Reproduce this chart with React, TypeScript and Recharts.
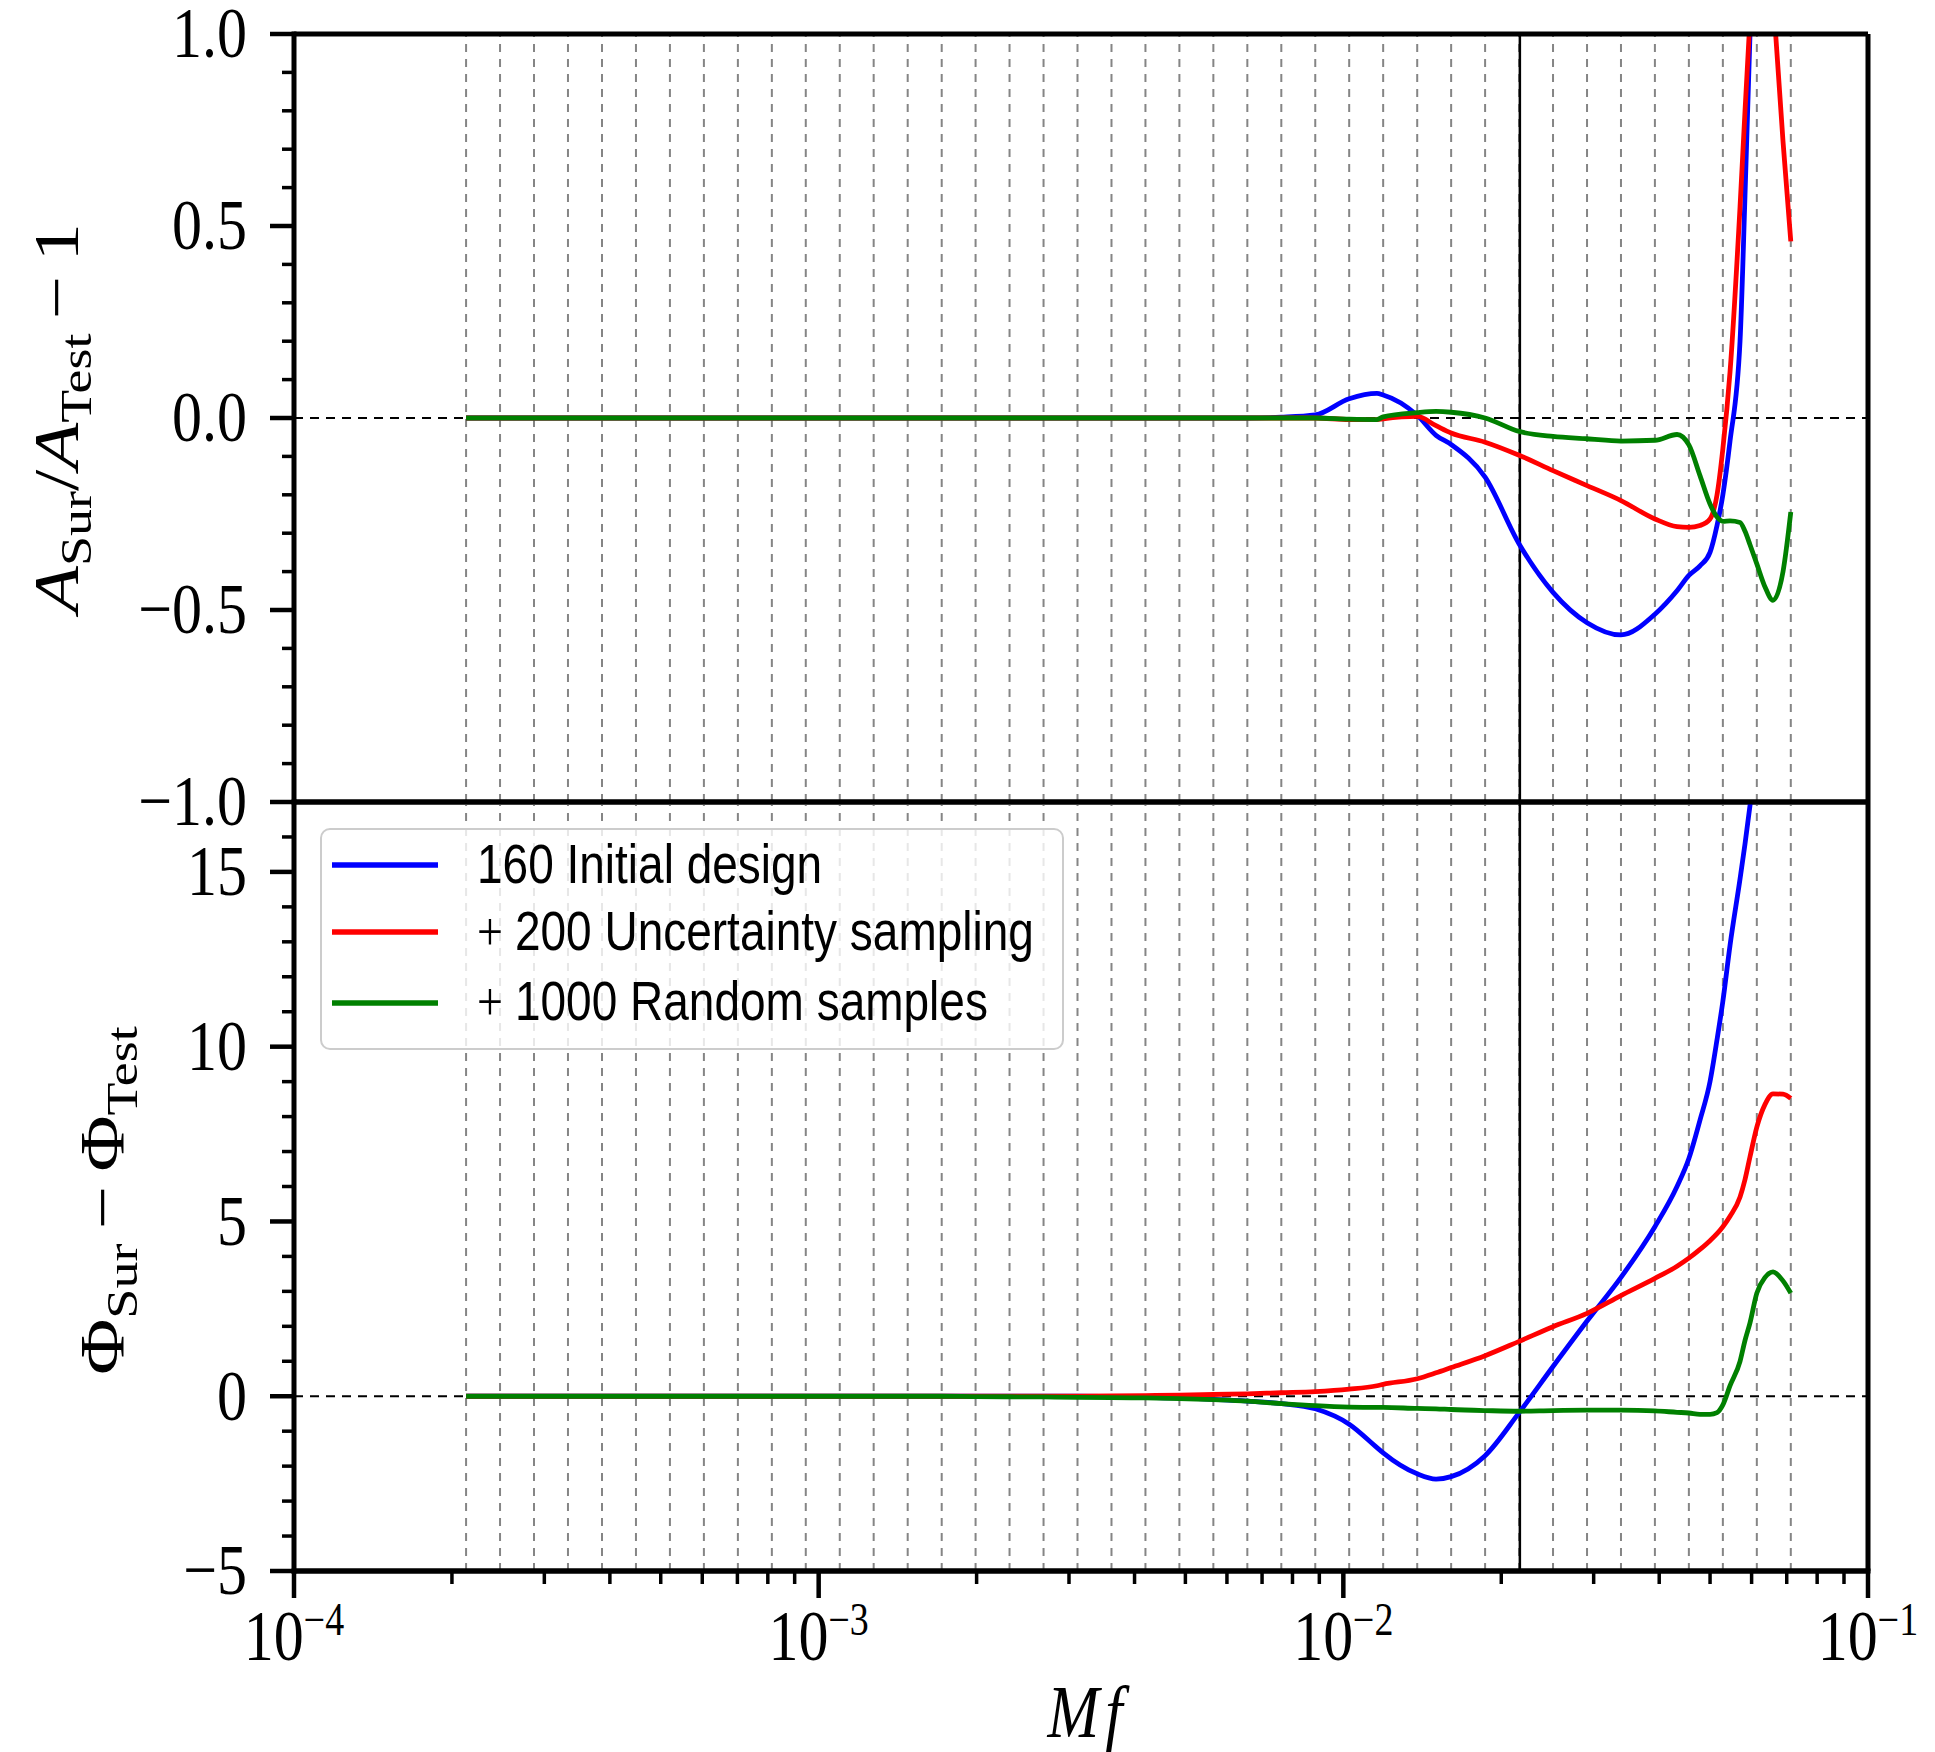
import React from 'react';
import { LineChart, Line, XAxis, YAxis, ReferenceLine, Legend } from 'recharts';

// ---------------- data ----------------
// Mf sample positions (log-spaced nodes + a few extra points in steep regions)
const MF = [
  2.128e-4, 2.470e-4, 2.867e-4, 3.328e-4, 3.864e-4, 4.485e-4, 5.206e-4, 6.043e-4, 7.015e-4, 8.143e-4,
  9.450e-4, 1.097e-3, 1.273e-3, 1.478e-3, 1.716e-3, 1.991e-3, 2.311e-3, 2.683e-3, 3.114e-3, 3.615e-3,
  4.196e-3, 4.870e-3, 5.653e-3, 6.562e-3, 7.617e-3, 8.841e-3, 1.026e-2, 1.159e-2, 1.191e-2, 1.383e-2,
  1.502e-2, 1.605e-2, 1.863e-2, 2.163e-2, 2.510e-2, 2.914e-2, 3.382e-2, 3.925e-2, 4.325e-2, 4.556e-2,
  4.784e-2, 4.999e-2, 5.155e-2, 5.289e-2, 5.458e-2, 5.703e-2, 5.829e-2, 5.958e-2, 6.139e-2, 6.364e-2,
  6.591e-2, 6.887e-2, 7.126e-2,
];

// amplitude residual A_Sur/A_Test - 1
const TOP_BLUE = [
  0, 0, 0, 0, 0, 0, 0, 0, 0, 0, 0, 0, 0, 0, 0, 0, 0, 0, 0, 0, 0, 0, 0,
  0, 0.002, 0.008, 0.05, 0.064, 0.06, 0.007, -0.045, -0.069, -0.154,
  -0.328, -0.454, -0.533, -0.565, -0.511, -0.45, -0.41, -0.385, -0.35, -0.28,
  -0.2, -0.06, 0.2, 0.58, 1.0, 1.6, 2.3, 3.0, 3.8, 4.5,
];
const TOP_RED = [
  0, 0, 0, 0, 0, 0, 0, 0, 0, 0, 0, 0, 0, 0, 0, 0, 0, 0, 0, 0, 0, 0, 0, 0, 0, 0,
  -0.004, -0.004, -0.002, 0.004, -0.02, -0.039, -0.063, -0.097, -0.137, -0.176,
  -0.215, -0.263, -0.283, -0.285, -0.28, -0.263, -0.2, -0.08, 0.12, 0.55,
  0.8, 1.04, 1.4, 1.45, 1.1, 0.72, 0.46,
];
const TOP_GREEN = [
  0, 0, 0, 0, 0, 0, 0, 0, 0, 0, 0, 0, 0, 0, 0, 0, 0, 0, 0, 0, 0, 0, 0, 0, 0, 0,
  -0.003, -0.004, 0.003, 0.014, 0.017, 0.015, 0, -0.035, -0.048, -0.054,
  -0.06, -0.058, -0.043, -0.07, -0.15, -0.224, -0.258, -0.269, -0.268, -0.272,
  -0.295, -0.33, -0.38, -0.44, -0.475, -0.4, -0.245,
];

// phase residual Phi_Sur - Phi_Test
const BOT_BLUE = [
  0, 0, 0, 0, 0, 0, 0, 0, 0, 0, 0, 0, 0, 0, 0, 0, 0, 0, 0,
  -0.01, -0.03, -0.05, -0.09, -0.14, -0.21, -0.36, -0.8, -1.47, -1.62,
  -2.22, -2.37, -2.3, -1.7, -0.47, 0.85, 2.15, 3.4, 4.85, 6.0,
  6.8, 7.9, 9.0, 10.2, 11.3, 12.9, 14.8, 15.8, 16.9, 18.5,
  20.5, 22.5, 25, 27,
];
const BOT_RED = [
  0, 0, 0, 0, 0, 0, 0, 0, 0, 0, 0, 0, 0, 0, 0, 0, 0, 0,
  0.005, 0.01, 0.02, 0.03, 0.05, 0.07, 0.1, 0.13, 0.2, 0.3,
  0.34, 0.5, 0.67, 0.82, 1.16, 1.57, 1.99, 2.37, 2.88, 3.37,
  3.72, 3.95, 4.2, 4.45, 4.65, 4.85, 5.15, 5.7, 6.2, 6.85,
  7.7, 8.35, 8.65, 8.64, 8.52,
];
const BOT_GREEN = [
  0, 0, 0, 0, 0, 0, 0, 0, 0, 0, 0, 0, 0, 0, 0,
  -0.01, -0.015, -0.02, -0.03, -0.04, -0.05, -0.07, -0.1, -0.14, -0.21,
  -0.27, -0.31, -0.32, -0.32, -0.35, -0.36, -0.38, -0.41, -0.43, -0.41,
  -0.4, -0.4, -0.42, -0.46, -0.48, -0.52, -0.52, -0.47, -0.25, 0.3,
  1.0, 1.6, 2.1, 2.95, 3.4, 3.56, 3.3, 2.95,
];

// vertical dotted grid (node frequencies) and the marked frequency
const GRID_MF = [
  2.128e-4, 2.470e-4, 2.867e-4, 3.328e-4, 3.864e-4, 4.485e-4, 5.206e-4, 6.043e-4, 7.015e-4, 8.143e-4,
  9.450e-4, 1.097e-3, 1.273e-3, 1.478e-3, 1.716e-3, 1.991e-3, 2.311e-3, 2.683e-3, 3.114e-3, 3.615e-3,
  4.196e-3, 4.870e-3, 5.653e-3, 6.562e-3, 7.617e-3, 8.841e-3, 1.026e-2, 1.191e-2, 1.383e-2, 1.605e-2,
  1.863e-2, 2.163e-2, 2.510e-2, 2.914e-2, 3.382e-2, 3.925e-2, 4.556e-2, 5.289e-2, 6.139e-2, 7.126e-2,
];
const MARKER_MF = 0.0217;

const SERIES_NAMES = ['160 Initial design', '+ 200 Uncertainty sampling', '+ 1000 Random samples'];
const SERIES_COLORS = ['#0000ff', '#ff0000', '#008000'];

// axis domains and ticks
const X_DOMAIN = [1e-4, 1e-1];
const TOP_DOMAIN = [-1, 1];
const BOT_DOMAIN = [-5, 17];
const X_MAJOR = [1e-4, 1e-3, 1e-2, 1e-1];
const X_MAJOR_EXP = ['\u22124', '\u22123', '\u22122', '\u22121'];
const X_MINOR = [
  2e-4, 3e-4, 4e-4, 5e-4, 6e-4, 7e-4, 8e-4, 9e-4,
  2e-3, 3e-3, 4e-3, 5e-3, 6e-3, 7e-3, 8e-3, 9e-3,
  2e-2, 3e-2, 4e-2, 5e-2, 6e-2, 7e-2, 8e-2, 9e-2,
];
const TOP_MAJOR = [-1, -0.5, 0, 0.5, 1];
const TOP_MAJOR_LABELS = ['\u22121.0', '\u22120.5', '0.0', '0.5', '1.0'];
const TOP_MINOR = [-0.9, -0.8, -0.7, -0.6, -0.4, -0.3, -0.2, -0.1, 0.1, 0.2, 0.3, 0.4, 0.6, 0.7, 0.8, 0.9];
const BOT_MAJOR = [-5, 0, 5, 10, 15];
const BOT_MAJOR_LABELS = ['\u22125', '0', '5', '10', '15'];
const BOT_MINOR = [-4, -3, -2, -1, 1, 2, 3, 4, 6, 7, 8, 9, 11, 12, 13, 14, 16, 17];

// ---------------- layout / style ----------------
const W = 1935;
const H = 1752;
const PLOT_LEFT = 294;
const PLOT_RIGHT = 1868;
const PANEL_TOP = 34;
const PANEL_MID = 802;
const PANEL_BOTTOM = 1571;
const Y_AXIS_W = 200;
const X_AXIS_H = 120;
const SY = 1.2; // vertical stretch of the reference text
const SERIF = "'Liberation Serif', 'DejaVu Serif', serif";
const SANS = "'Liberation Sans', 'DejaVu Sans', sans-serif";
const SPINE_W = 5;
const SPINE = { stroke: '#000', strokeWidth: SPINE_W, strokeLinecap: 'square' as const };

function near(a: number, b: number) {
  return Math.abs(a - b) <= Math.abs(b) * 1e-6 + 1e-12;
}

function makeYTick(majors: number[], labels: string[]) {
  return function YTick(props: any) {
    const { x, y, payload } = props;
    const idx = majors.findIndex((m) => near(payload.value, m));
    const major = idx >= 0;
    return (
      <g>
        <line x1={x} x2={x - (major ? 24 : 12)} y1={y} y2={y} stroke="#000" strokeWidth={major ? 4.5 : 3.5} />
        {major && (
          <g transform={`translate(${x - 47},${y}) scale(1,${SY})`}>
            <text x={0} y={0} dy={19.5} textAnchor="end" fontFamily={SERIF} fontSize={60} fill="#000">
              {labels[idx]}
            </text>
          </g>
        )}
      </g>
    );
  };
}

const topTick = makeYTick(TOP_MAJOR, TOP_MAJOR_LABELS);
const botTick = makeYTick(BOT_MAJOR, BOT_MAJOR_LABELS);

function XTick(props: any) {
  const { x, y, payload } = props;
  const idx = X_MAJOR.findIndex((m) => near(payload.value, m));
  const major = idx >= 0;
  return (
    <g>
      <line x1={x} x2={x} y1={y} y2={y + (major ? 27 : 13)} stroke="#000" strokeWidth={major ? 4.5 : 3.5} />
      {major && (
        <g transform={`translate(${x},${y + 89}) scale(1,${SY})`}>
          <text x={0} y={0} textAnchor="middle" fontFamily={SERIF} fontSize={60} fill="#000">
            10
            <tspan fontSize={38} dy={-21}>
              {X_MAJOR_EXP[idx]}
            </tspan>
          </text>
        </g>
      )}
    </g>
  );
}

function renderTopYLabel() {
  return (
    <g transform={`translate(78,${(PANEL_TOP + PANEL_MID) / 2}) scale(1,${SY}) rotate(-90)`}>
      <text x={0} y={0} textAnchor="middle" fontFamily={SERIF} fontSize={64} fill="#000">
        <tspan fontStyle="italic">A</tspan>
        <tspan fontSize={45} dy={13}>Sur</tspan>
        <tspan dy={-13}>/</tspan>
        <tspan fontStyle="italic">A</tspan>
        <tspan fontSize={45} dy={13}>Test</tspan>
        <tspan dy={-13} dx={12}>{'\u2212'}</tspan>
        <tspan dx={12}>1</tspan>
      </text>
    </g>
  );
}

function renderBotYLabel() {
  return (
    <g transform={`translate(124,${(PANEL_MID + PANEL_BOTTOM) / 2 + 14}) scale(1,${SY}) rotate(-90)`}>
      <text x={0} y={0} textAnchor="middle" fontFamily={SERIF} fontSize={64} fill="#000">
        <tspan>{'\u03A6'}</tspan>
        <tspan fontSize={45} dy={13}>Sur</tspan>
        <tspan dy={-13} dx={12}>{'\u2212'}</tspan>
        <tspan dx={12}>{'\u03A6'}</tspan>
        <tspan fontSize={45} dy={13}>Test</tspan>
      </text>
    </g>
  );
}

function renderXLabel() {
  return (
    <g transform={`translate(${(PLOT_LEFT + PLOT_RIGHT) / 2 + 4},1737) scale(1,${SY})`}>
      <text x={0} y={0} textAnchor="middle" fontFamily={SERIF} fontStyle="italic" fontSize={62} fill="#000">
        M<tspan dx={6}>f</tspan>
      </text>
    </g>
  );
}

const LEG_W = 744;
const LEG_H = 222;
const LEG_HANDLE_Y = [37, 104, 175];
const LEG_TEXT_Y = [55, 122, 192];

function renderLegend(props: any) {
  const payload: any[] = props.payload || [];
  return (
    <svg width={LEG_W} height={LEG_H} style={{ display: 'block', overflow: 'visible' }}>
      <rect x={1} y={1} width={LEG_W - 2} height={LEG_H - 2} rx={9} ry={9} fill="#fff" fillOpacity={0.8} stroke="#cccccc" strokeWidth={2} />
      {SERIES_NAMES.map((name, i) => {
        const entry = payload.find((p) => p.value === name);
        const color = entry ? entry.color : SERIES_COLORS[i];
        const plus = name.startsWith('+ ');
        const rest = plus ? name.slice(2) : name;
        return (
          <g key={name}>
            <line x1={12} x2={118} y1={LEG_HANDLE_Y[i]} y2={LEG_HANDLE_Y[i]} stroke={color} strokeWidth={5.5} />
            <g transform={`translate(157,${LEG_TEXT_Y[i]}) scale(1,${SY})`}>
              <text x={0} y={0} fontFamily={SANS} fontSize={46} fill="#000">
                {plus && <tspan fontFamily={SERIF}>+</tspan>}
                <tspan dx={plus ? 12 : 0}>{rest}</tspan>
              </text>
            </g>
          </g>
        );
      })}
    </svg>
  );
}

function gridLines() {
  return GRID_MF.map((f) => (
    <ReferenceLine key={`g${f}`} x={f} stroke="#858585" strokeWidth={2} strokeDasharray="8 7" />
  ));
}

function seriesLines() {
  const keys = ['blue', 'red', 'green'];
  return keys.map((k, i) => (
    <Line
      key={k}
      type="monotone"
      dataKey={k}
      name={SERIES_NAMES[i]}
      stroke={SERIES_COLORS[i]}
      strokeWidth={4.8}
      dot={false}
      activeDot={false}
      isAnimationActive={false}
    />
  ));
}

// frame (spines) drawn at the domain edges through the chart scales
function spines(yDomain: number[]) {
  return [
    <ReferenceLine key="sTop" y={yDomain[1]} stroke="#000" strokeWidth={SPINE_W} ifOverflow="visible" />,
    <ReferenceLine key="sBot" y={yDomain[0]} stroke="#000" strokeWidth={SPINE_W} ifOverflow="visible" />,
    <ReferenceLine key="sRight" x={X_DOMAIN[1]} stroke="#000" strokeWidth={SPINE_W} ifOverflow="visible" />,
  ];
}

export default function App() {
  const topRows = MF.map((mf, i) => ({ mf, blue: TOP_BLUE[i], red: TOP_RED[i], green: TOP_GREEN[i] }));
  const botRows = MF.map((mf, i) => ({ mf, blue: BOT_BLUE[i], red: BOT_RED[i], green: BOT_GREEN[i] }));
  const xTicks = [...X_MAJOR, ...X_MINOR].sort((a, b) => a - b);
  const topTicks = [...TOP_MAJOR, ...TOP_MINOR].sort((a, b) => a - b);
  const botTicks = [...BOT_MAJOR, ...BOT_MINOR].sort((a, b) => a - b);
  const marginLeft = PLOT_LEFT - Y_AXIS_W;
  const marginRight = W - PLOT_RIGHT;

  return (
    <div style={{ position: 'absolute', left: 0, top: 0, width: W, height: H, background: '#fff' }}>
      <div style={{ position: 'absolute', left: 0, top: 0 }}>
        <LineChart
          width={W}
          height={H}
          data={topRows}
          margin={{ top: PANEL_TOP, right: marginRight, bottom: H - PANEL_MID, left: marginLeft }}
        >
          {gridLines()}
          <ReferenceLine x={MARKER_MF} stroke="#000" strokeWidth={2.5} />
          <ReferenceLine y={0} stroke="#000" strokeWidth={2} strokeDasharray="9 7" />
          <XAxis dataKey="mf" type="number" scale="log" domain={X_DOMAIN} allowDataOverflow hide />
          <YAxis
            type="number"
            domain={TOP_DOMAIN}
            allowDataOverflow
            width={Y_AXIS_W}
            ticks={topTicks}
            interval={0}
            tick={topTick}
            tickLine={false}
            tickSize={0}
            tickMargin={0}
            axisLine={SPINE}
            label={renderTopYLabel}
          />
          {seriesLines()}
          {spines(TOP_DOMAIN)}
        </LineChart>
      </div>
      <div style={{ position: 'absolute', left: 0, top: 0 }}>
        <LineChart
          width={W}
          height={H}
          data={botRows}
          margin={{ top: PANEL_MID, right: marginRight, bottom: H - PANEL_BOTTOM - X_AXIS_H, left: marginLeft }}
        >
          {gridLines()}
          <ReferenceLine x={MARKER_MF} stroke="#000" strokeWidth={2.5} />
          <ReferenceLine y={0} stroke="#000" strokeWidth={2} strokeDasharray="9 7" />
          <XAxis
            dataKey="mf"
            type="number"
            scale="log"
            domain={X_DOMAIN}
            allowDataOverflow
            height={X_AXIS_H}
            ticks={xTicks}
            interval={0}
            tick={XTick}
            tickLine={false}
            tickSize={0}
            tickMargin={0}
            axisLine={SPINE}
            label={renderXLabel}
          />
          <YAxis
            type="number"
            domain={BOT_DOMAIN}
            allowDataOverflow
            width={Y_AXIS_W}
            ticks={botTicks}
            interval={0}
            tick={botTick}
            tickLine={false}
            tickSize={0}
            tickMargin={0}
            axisLine={SPINE}
            label={renderBotYLabel}
          />
          {seriesLines()}
          {spines(BOT_DOMAIN)}
          <Legend
            layout="vertical"
            align="center"
            verticalAlign="middle"
            width={LEG_W}
            height={LEG_H}
            wrapperStyle={{ left: 320, top: 828, width: LEG_W, height: LEG_H }}
            content={renderLegend}
          />
        </LineChart>
      </div>
    </div>
  );
}
